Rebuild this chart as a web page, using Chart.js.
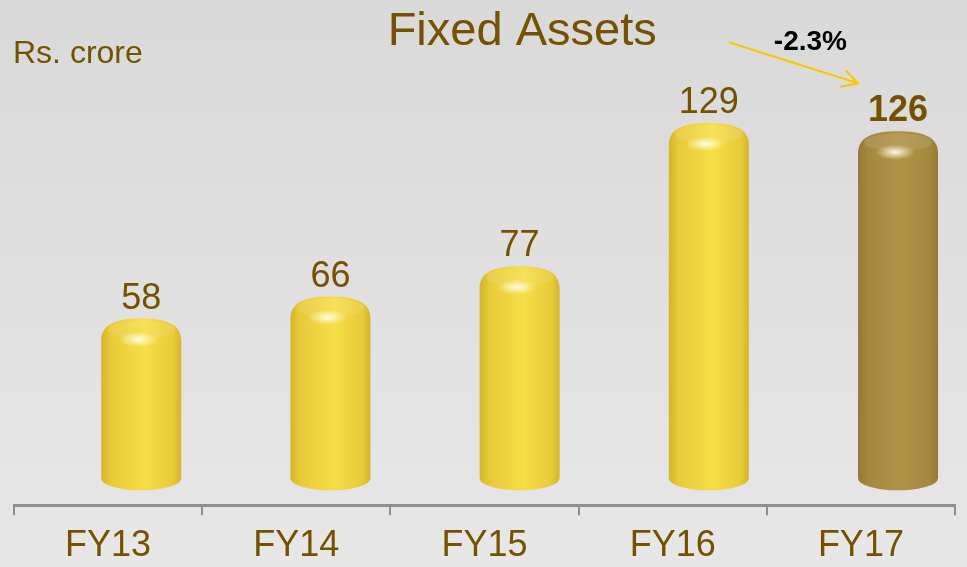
<!DOCTYPE html>
<html>
<head>
<meta charset="utf-8">
<script src="https://cdn.jsdelivr.net/npm/chart.js@4/dist/chart.umd.min.js"></script>
<style>
  html, body { margin: 0; padding: 0; background: #e2e2e2; }
  #wrap { width: 967px; height: 567px; position: relative; }
</style>
</head>
<body>
<div id="wrap"><canvas id="c" width="967" height="567"></canvas></div>
<script>
// ---- data ----
const categories = ['FY13', 'FY14', 'FY15', 'FY16', 'FY17'];
const fixedAssets = [58, 66, 77, 129, 126];
const titleText = 'Fixed Assets';
const unitText = 'Rs. crore';
const changeText = '-2.3%';

// ---- styles ----
const FONT = '"Liberation Sans", Arial, Helvetica, sans-serif';
const TEXT_COLOR = '#735200';
const goldPal = ['#d4b42c', '#e8ca39', '#f6de46'];
const olivePal = ['#947936', '#a4883f', '#af9246'];

const bgPlugin = {
  id: 'bg',
  beforeDraw(chart) {
    const { ctx, width, height } = chart;
    const g = ctx.createLinearGradient(0, 0, 0, height);
    g.addColorStop(0, '#d9d9d9');
    g.addColorStop(1, '#e7e7e7');
    ctx.save();
    ctx.fillStyle = g;
    ctx.fillRect(0, 0, width, height);
    ctx.restore();
  }
};

const cylinderPlugin = {
  id: 'cylinders',
  afterDatasetsDraw(chart) {
    const ctx = chart.ctx;
    const meta = chart.getDatasetMeta(0);
    const xs = chart.scales.x;
    const cw = (xs.right - xs.left) / categories.length;
    const centers = [];
    meta.data.forEach((el, i) => {
      const shift = cw * 0.176 + i;
      const cx = el.x + shift, w = el.width;
      const L = cx - w / 2, R = cx + w / 2;
      const top = el.y, base = el.base;
      centers.push({ cx, top });
      const pal = i === categories.length - 1 ? olivePal : goldPal;
      const g = ctx.createLinearGradient(L, 0, R, 0);
      g.addColorStop(0, pal[0]);
      g.addColorStop(0.12, pal[1]);
      g.addColorStop(0.55, pal[2]);
      g.addColorStop(0.9, pal[1]);
      g.addColorStop(1, pal[0]);
      ctx.save();
      ctx.beginPath();
      ctx.moveTo(L, base);
      ctx.lineTo(L, top + 22);
      ctx.bezierCurveTo(L, top + 5, cx - w * 0.3, top, cx, top);
      ctx.bezierCurveTo(cx + w * 0.3, top, R, top + 5, R, top + 22);
      ctx.lineTo(R, base);
      ctx.ellipse(cx, base, w / 2, 12, 0, 0, Math.PI);
      ctx.closePath();
      ctx.fillStyle = g;
      ctx.fill();
      // top surface
      ctx.beginPath();
      ctx.ellipse(cx, top + 11, w / 2 - 6, 9, 0, 0, Math.PI * 2);
      ctx.fillStyle = 'rgba(255,255,255,0.10)';
      ctx.fill();
      // highlight
      ctx.save();
      ctx.translate(cx - 3, top + 21);
      ctx.scale(1, 0.38);
      const rg = ctx.createRadialGradient(0, 0, 0, 0, 0, 20);
      rg.addColorStop(0, 'rgba(255,255,240,0.95)');
      rg.addColorStop(0.5, 'rgba(255,255,230,0.45)');
      rg.addColorStop(1, 'rgba(255,255,230,0)');
      ctx.fillStyle = rg;
      ctx.beginPath();
      ctx.arc(0, 0, 20, 0, Math.PI * 2);
      ctx.fill();
      ctx.restore();
      // value label
      const last = i === categories.length - 1;
      ctx.font = (last ? 'bold ' : '') + '36px ' + FONT;
      ctx.fillStyle = TEXT_COLOR;
      ctx.textAlign = 'center';
      ctx.textBaseline = 'alphabetic';
      ctx.fillText(String(fixedAssets[i]), cx, top - 10);
      ctx.restore();
    });

    // texts
    ctx.save();
    ctx.fillStyle = TEXT_COLOR;
    ctx.textBaseline = 'alphabetic';
    ctx.textAlign = 'center';
    ctx.font = '47px ' + FONT;
    ctx.fillText(titleText, chart.width * 0.54, 45);
    ctx.textAlign = 'left';
    ctx.font = '32px ' + FONT;
    ctx.fillText(unitText, 13, 63);

    // change arrow between the last two bars
    const a = centers[centers.length - 2], b = centers[centers.length - 1];
    const w = meta.data[0].width;
    const x1 = a.cx + 20, y1 = b.top - 89;
    const x2 = b.cx - w / 2, y2 = b.top - 48;
    ctx.strokeStyle = '#f5c800';
    ctx.lineWidth = 2;
    ctx.beginPath();
    ctx.moveTo(x1, y1);
    ctx.lineTo(x2, y2);
    ctx.stroke();
    const ang = Math.atan2(y2 - y1, x2 - x1);
    const hl = 18;
    ctx.beginPath();
    ctx.moveTo(x2 + hl * Math.cos(ang + Math.PI - 0.5), y2 + hl * Math.sin(ang + Math.PI - 0.5));
    ctx.lineTo(x2, y2);
    ctx.lineTo(x2 + hl * Math.cos(ang + Math.PI + 0.5), y2 + hl * Math.sin(ang + Math.PI + 0.5));
    ctx.stroke();
    ctx.fillStyle = '#000000';
    ctx.textAlign = 'center';
    ctx.font = 'bold 28px ' + FONT;
    ctx.fillText(changeText, (a.cx + b.cx) / 2 + 7, 50);
    ctx.restore();
  }
};

new Chart(document.getElementById('c'), {
  type: 'bar',
  data: {
    labels: categories,
    datasets: [{
      data: fixedAssets,
      backgroundColor: 'rgba(0,0,0,0)',
      borderWidth: 0,
      barPercentage: 0.425,
      categoryPercentage: 1
    }]
  },
  options: {
    responsive: false,
    animation: false,
    events: [],
    layout: { padding: { left: 14, right: 12, top: 37.6, bottom: -9.5 } },
    plugins: { legend: { display: false }, title: { display: false }, tooltip: { enabled: false } },
    scales: {
      y: { display: false, min: -9.8, max: 160 },
      x: {
        offset: true,
        grid: { display: true, drawOnChartArea: false, drawTicks: true, tickLength: 10, color: '#8f8f8f', lineWidth: 2, offset: true },
        border: { display: true, color: '#8f8f8f', width: 3 },
        ticks: { color: TEXT_COLOR, font: { family: FONT, size: 36 }, padding: 9, maxRotation: 0 }
      }
    }
  },
  plugins: [bgPlugin, cylinderPlugin]
});
</script>
</body>
</html>
